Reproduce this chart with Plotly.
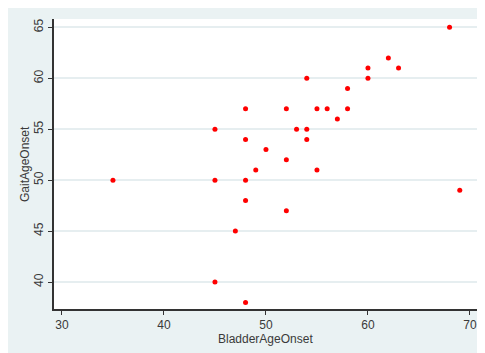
import plotly.graph_objects as go

bladder_age_onset = [68, 62, 60, 63, 60, 54, 58, 48, 52, 55, 56, 58, 57, 45, 53, 54,
                     48, 54, 50, 52, 49, 55, 35, 45, 48, 69, 48, 52, 47, 45, 48]
gait_age_onset = [65, 62, 61, 61, 60, 60, 59, 57, 57, 57, 57, 57, 56, 55, 55, 55,
                  54, 54, 53, 52, 51, 51, 50, 50, 50, 49, 48, 47, 45, 40, 38]

x_ticks = [30, 40, 50, 60, 70]
y_ticks = [40, 45, 50, 55, 60, 65]
x_title = "BladderAgeOnset"
y_title = "GaitAgeOnset"

BG = "#EAF2F3"
# page body adds an 8px margin; size the figure to fill the rest of the window
W, H = 477, 345
L, R, T, B = 46, 8, 11, 44
pw, ph = W - L - R, H - T - B

fig = go.Figure()
fig.add_trace(go.Scatter(
    x=bladder_age_onset, y=gait_age_onset, mode="markers",
    marker=dict(color="#FF0000", size=5, line=dict(width=0)),
    hoverinfo="x+y", showlegend=False,
))

fig.update_layout(
    width=W, height=H,
    margin=dict(l=L, r=R, t=T, b=B, pad=0, autoexpand=False),
    paper_bgcolor=BG, plot_bgcolor="white",
    font=dict(family="Liberation Sans, Arial, sans-serif", size=12, color="#3a3a3a"),
    xaxis=dict(
        range=[29.22, 70.69], tickvals=x_ticks, ticktext=[str(v) for v in x_ticks],
        showgrid=False, zeroline=False, showline=True, linecolor="#333333", linewidth=1.5,
        ticks="outside", ticklen=4, tickcolor="#333333", automargin=False,
    ),
    yaxis=dict(
        range=[37.35, 65.82], tickvals=y_ticks, ticktext=[str(v) for v in y_ticks],
        showgrid=True, gridcolor="#E6EEF0", gridwidth=1.5, zeroline=False,
        showline=True, linecolor="#333333", linewidth=1.5, automargin=False,
        ticks="outside", ticklen=4, tickcolor="#333333", tickangle=-90,
    ),
    annotations=[
        dict(text=x_title, xref="paper", yref="paper", x=0.5, y=-(331 - (H - B)) / ph,
             xanchor="center", yanchor="middle", showarrow=False, font=dict(size=12)),
        dict(text=y_title, xref="paper", yref="paper", x=(17 - L) / pw, y=0.5,
             xanchor="center", yanchor="middle", textangle=-90, showarrow=False,
             font=dict(size=12)),
    ],
)

fig.write_html("out.html")
